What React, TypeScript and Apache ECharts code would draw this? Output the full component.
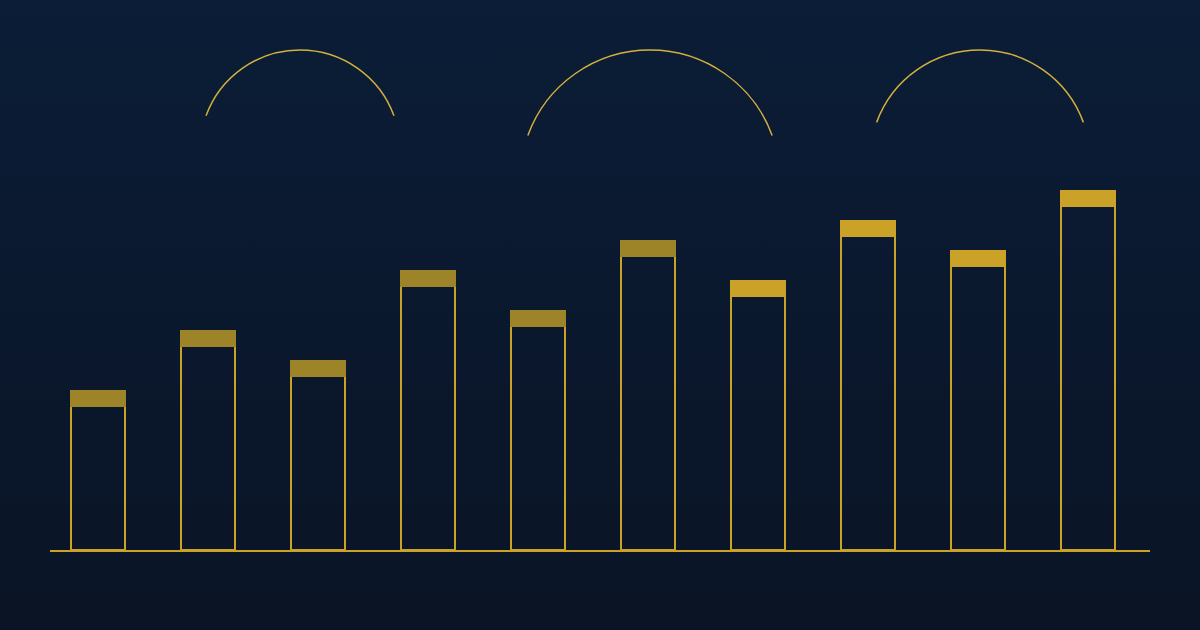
import { useEffect, useRef } from 'react'
import * as echarts from 'echarts'

// data
const categories = ['1', '2', '3', '4', '5', '6', '7', '8', '9', '10']
const values = [40, 55, 47.5, 70, 60, 77.5, 67.5, 82.5, 75, 90]
// caps of the last four bars are highlighted
const highlighted = [false, false, false, false, false, false, true, true, true, true]

const GOLD = '#c9a227'
const GOLD_DIM = '#9e8429'
const ARC = '#d2b13c'

// decorative arcs: centre, radius
const arcs = [
  { cx: 300, cy: 150, r: 100 },
  { cx: 650, cy: 180, r: 130 },
  { cx: 980, cy: 160, r: 110 }
]
const arcSpan = (20 * Math.PI) / 180

const App: React.FC = () => {
  const chartRef = useRef<HTMLDivElement | null>(null)

  useEffect(() => {
    if (chartRef.current === null) return
    const chart = echarts.init(chartRef.current, undefined, { renderer: 'svg' })

    const option = {
      animation: false,
      backgroundColor: new echarts.graphic.LinearGradient(0, 0, 0, 1, [
        { offset: 0, color: '#0b1d37' },
        { offset: 1, color: '#0a1425' }
      ]),
      grid: { left: 43, width: 1100, top: 151, bottom: 79 },
      xAxis: {
        type: 'category',
        data: categories,
        axisLine: { show: false },
        axisTick: { show: false },
        axisLabel: { show: false }
      },
      yAxis: {
        type: 'value',
        min: 0,
        max: 100,
        show: false,
        splitLine: { show: false }
      },
      series: [
        {
          type: 'bar',
          data: values,
          // echarts insets the rect by half the border width
          barWidth: 56,
          itemStyle: {
            color: 'rgba(0,0,0,0)',
            borderColor: GOLD,
            borderWidth: 2
          }
        },
        {
          type: 'custom',
          data: values.map((v, i) => [i, v]),
          z: 3,
          renderItem: (params: any, api: any) => {
            const p = api.coord([api.value(0), api.value(1)])
            const w = 56
            return {
              type: 'rect',
              shape: { x: p[0] - w / 2, y: p[1] - 1, width: w, height: 17 },
              style: { fill: highlighted[params.dataIndex] ? GOLD : GOLD_DIM }
            }
          }
        }
      ],
      graphic: [
        {
          type: 'line',
          shape: { x1: 50, y1: 551, x2: 1150, y2: 551 },
          style: { stroke: GOLD, lineWidth: 2 },
          z: 10
        },
        ...arcs.map((a) => ({
          type: 'arc',
          shape: {
            cx: a.cx,
            cy: a.cy,
            r: a.r,
            startAngle: -Math.PI + arcSpan,
            endAngle: -arcSpan,
            clockwise: true
          },
          style: { stroke: ARC, lineWidth: 1.5, fill: 'none' }
        }))
      ]
    }

    chart.setOption(option)
    return () => {
      chart.dispose()
    }
  }, [])

  return (
    <div
      ref={chartRef}
      style={{ position: 'fixed', left: 0, top: 0, width: 1200, height: 630 }}
    ></div>
  )
}

export default App
